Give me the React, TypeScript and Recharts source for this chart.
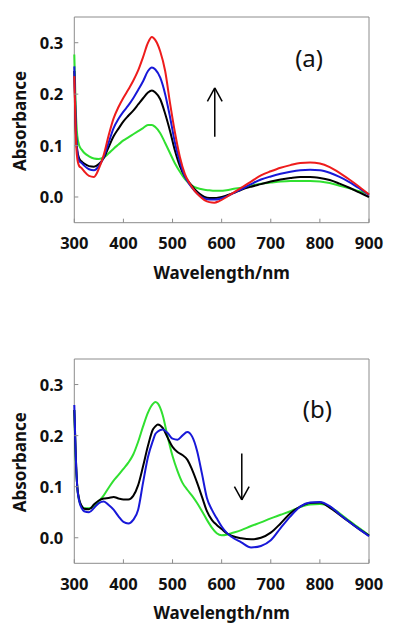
import React from "react";
import { LineChart, Line, XAxis, YAxis, ReferenceArea, ReferenceLine, ReferenceDot } from "recharts";

// wavelength grids (nm)
const WL_A = [
  300, 303, 306, 310, 315, 320, 330, 340, 350, 360, 370, 380, 390, 400, 410, 420, 430, 440, 450, 458, 465, 475, 485,
  495, 505, 515, 525, 535, 545, 555, 565, 575, 585, 595, 610, 625, 640, 660, 680, 700, 720, 740, 760, 780, 800, 820,
  840, 860, 880, 900,
];
const WL_B = [
  300, 303, 306, 310, 315, 320, 330, 340, 350, 360, 370, 380, 390, 400, 410, 420, 430, 440, 450, 460, 465, 470, 480,
  490, 500, 510, 520, 530, 540, 550, 560, 570, 580, 590, 600, 610, 620, 640, 660, 680, 700, 720, 740, 760, 780, 800,
  820, 840, 860, 880, 900,
];

// panel (a) absorbance
const A_GREEN = [
  0.277, 0.17, 0.12, 0.1, 0.092, 0.086, 0.079, 0.075, 0.074, 0.077, 0.085, 0.094, 0.102, 0.11, 0.116, 0.122, 0.128,
  0.134, 0.14, 0.14, 0.136, 0.124, 0.105, 0.085, 0.065, 0.049, 0.035, 0.025, 0.019, 0.016, 0.014, 0.013, 0.012, 0.012,
  0.013, 0.016, 0.018, 0.022, 0.026, 0.028, 0.03, 0.031, 0.031, 0.031, 0.03, 0.027, 0.022, 0.017, 0.011, 0.006,
];
const A_BLACK = [
  0.245, 0.13, 0.09, 0.075, 0.069, 0.065, 0.06, 0.059, 0.064, 0.076, 0.097, 0.118, 0.133, 0.147, 0.158, 0.168, 0.18,
  0.192, 0.203, 0.207, 0.203, 0.19, 0.162, 0.128, 0.09, 0.06, 0.04, 0.027, 0.015, 0.006, 0.0, -0.002, -0.002, -0.001,
  0.003, 0.008, 0.014, 0.02, 0.025, 0.03, 0.034, 0.037, 0.039, 0.039, 0.037, 0.033, 0.026, 0.018, 0.009, 0.0,
];
const A_BLUE = [
  0.254, 0.14, 0.09, 0.07, 0.066, 0.061, 0.054, 0.052, 0.06, 0.078, 0.106, 0.134, 0.152, 0.166, 0.178, 0.192, 0.208,
  0.225, 0.245, 0.252, 0.248, 0.232, 0.2, 0.155, 0.105, 0.068, 0.04, 0.024, 0.012, 0.003, -0.003, -0.005, -0.005,
  -0.004, 0.001, 0.008, 0.015, 0.025, 0.034, 0.04, 0.045, 0.049, 0.052, 0.053, 0.052, 0.047, 0.039, 0.029, 0.017,
  0.004,
];
const A_RED = [
  0.235, 0.12, 0.075, 0.06, 0.056, 0.05, 0.041, 0.039, 0.055, 0.082, 0.12, 0.153, 0.175, 0.193, 0.209, 0.226, 0.246,
  0.272, 0.3, 0.311, 0.305, 0.283, 0.245, 0.182, 0.125, 0.078, 0.045, 0.026, 0.012, 0.002, -0.006, -0.01, -0.011,
  -0.008, 0.0, 0.009, 0.018, 0.03, 0.042, 0.05, 0.057, 0.062, 0.066, 0.067, 0.065, 0.058, 0.047, 0.034, 0.02, 0.005,
];

// panel (b) absorbance
const B_GREEN = [
  0.25, 0.15, 0.1, 0.072, 0.062, 0.058, 0.058, 0.062, 0.072, 0.083, 0.098, 0.112, 0.123, 0.135, 0.147, 0.163, 0.188,
  0.218, 0.245, 0.262, 0.266, 0.263, 0.24, 0.198, 0.16, 0.131, 0.108, 0.094, 0.082, 0.068, 0.052, 0.035, 0.02, 0.009,
  0.005, 0.006, 0.009, 0.015, 0.023, 0.03, 0.038, 0.045, 0.052, 0.06, 0.065, 0.066, 0.061, 0.048, 0.033, 0.019, 0.005,
];
const B_BLACK = [
  0.25, 0.16, 0.1, 0.075, 0.062, 0.057, 0.056, 0.065, 0.073, 0.077, 0.078, 0.08, 0.077, 0.075, 0.075, 0.082, 0.103,
  0.14, 0.18, 0.212, 0.218, 0.222, 0.215, 0.196, 0.178, 0.168, 0.162, 0.153, 0.133, 0.108, 0.08, 0.052, 0.035, 0.025,
  0.017, 0.009, 0.004, -0.001, -0.003, 0.0, 0.01, 0.028, 0.048, 0.061, 0.068, 0.069, 0.059, 0.045, 0.031, 0.017, 0.004,
];
const B_BLUE = [
  0.26, 0.16, 0.1, 0.072, 0.058, 0.052, 0.05, 0.058, 0.068, 0.071, 0.064, 0.055, 0.042, 0.031, 0.028, 0.035, 0.055,
  0.108, 0.158, 0.19, 0.203, 0.208, 0.212, 0.205, 0.194, 0.192, 0.2, 0.207, 0.198, 0.17, 0.125, 0.078, 0.055, 0.038,
  0.022, 0.01, 0.002, -0.009, -0.019, -0.016, -0.005, 0.019, 0.042, 0.061, 0.069, 0.07, 0.062, 0.046, 0.031, 0.017,
  0.003,
];

const X_TICKS = [300, 400, 500, 600, 700, 800, 900];
const Y_TICKS = [0, 0.1, 0.2, 0.3];

const FRAME = "#8c8c8c";
const FONT = "'Noto Sans', 'DejaVu Sans', sans-serif";
const RED = "#ee1c1c";
const BLUE = "#1818d8";
const GREEN = "#30e030";

const dataA = WL_A.map((wl, i) => ({ wl, green: A_GREEN[i], black: A_BLACK[i], blue: A_BLUE[i], red: A_RED[i] }));
const dataB = WL_B.map((wl, i) => ({ wl, green: B_GREEN[i], black: B_BLACK[i], blue: B_BLUE[i] }));

const XTick = (props: any) => {
  const { x, y, payload } = props;
  return (
    <g>
      <line x1={x} x2={x} y1={y} y2={y - 4} stroke={FRAME} />
      <text x={x} y={y + 26.5} textAnchor="middle" fontFamily={FONT} fontWeight="bold" fontSize={16.5} fill="#111">
        {payload.value}
      </text>
    </g>
  );
};

const YTick = (props: any) => {
  const { x, y, payload } = props;
  return (
    <g>
      <line x1={x} x2={x + 4} y1={y} y2={y} stroke={FRAME} />
      <text x={x - 11} y={y + 6} textAnchor="end" fontFamily={FONT} fontWeight="bold" fontSize={16.5} fill="#111">
        {Number(payload.value).toFixed(1)}
      </text>
    </g>
  );
};

const XTitle = (props: any) => {
  const { viewBox } = props;
  return (
    <text
      x={viewBox.x + viewBox.width / 2}
      y={viewBox.y + 56}
      textAnchor="middle"
      fontFamily={FONT}
      fontWeight="bold"
      fontSize={17}
      fill="#111"
    >
      Wavelength/nm
    </text>
  );
};

const YTitle = (props: any) => {
  const { viewBox } = props;
  const cx = 26;
  const cy = viewBox.y + viewBox.height / 2 + 1;
  return (
    <text
      x={cx}
      y={cy}
      transform={`rotate(-90 ${cx} ${cy})`}
      textAnchor="middle"
      fontFamily={FONT}
      fontWeight="bold"
      fontSize={17}
      fill="#111"
    >
      Absorbance
    </text>
  );
};

type Arrow = { x: number; tail: number; tip: number; head: number };

function Panel(props: {
  data: any[];
  keys: { key: string; color: string }[];
  tag: string;
  tagAt: { x: number; y: number };
  arrow: Arrow;
  height: number;
  top: number;
  axisH: number;
}) {
  const { data, keys, tag, tagAt, arrow, height, top, axisH } = props;
  const dir = arrow.tip > arrow.tail ? -1 : 1;
  return (
    <LineChart width={400} height={height} data={data} margin={{ top, right: 31, bottom: 0, left: 0 }}>
      <XAxis
        dataKey="wl"
        type="number"
        domain={[300, 900]}
        ticks={X_TICKS}
        height={axisH}
        axisLine={false}
        tickLine={false}
        tickSize={0}
        tickMargin={0}
        tick={<XTick />}
        interval={0}
        label={<XTitle />}
      />
      <YAxis
        type="number"
        domain={[-0.05, 0.35]}
        ticks={Y_TICKS}
        width={74.3}
        axisLine={false}
        tickLine={false}
        tickSize={0}
        tickMargin={0}
        tick={<YTick />}
        interval={0}
        label={<YTitle />}
      />
      <ReferenceArea x1={300} x2={900} y1={-0.05} y2={0.35} stroke={FRAME} strokeWidth={1} fill="none" />
      {keys.map((k) => (
        <Line
          key={k.key}
          type="monotone"
          dataKey={k.key}
          stroke={k.color}
          strokeWidth={2}
          dot={false}
          isAnimationActive={false}
        />
      ))}
      <ReferenceLine
        segment={[
          { x: arrow.x, y: arrow.tail },
          { x: arrow.x, y: arrow.tip },
        ]}
        stroke="#000"
        strokeWidth={1.5}
      />
      <ReferenceLine
        segment={[
          { x: arrow.x - 15, y: arrow.tip + dir * arrow.head },
          { x: arrow.x, y: arrow.tip },
        ]}
        stroke="#000"
        strokeWidth={1.5}
      />
      <ReferenceLine
        segment={[
          { x: arrow.x + 15, y: arrow.tip + dir * arrow.head },
          { x: arrow.x, y: arrow.tip },
        ]}
        stroke="#000"
        strokeWidth={1.5}
      />
      <ReferenceDot
        x={tagAt.x}
        y={tagAt.y}
        r={0}
        fill="none"
        stroke="none"
        label={{ value: tag, position: "center", fontSize: 24, fill: "#111", fontFamily: FONT }}
      />
    </LineChart>
  );
}

export default function App() {
  return (
    <div style={{ position: "absolute", left: 0, top: 0, width: 400, height: 637, background: "#fff" }}>
      <div style={{ position: "absolute", left: 0, top: 0 }}>
        <Panel
          data={dataA}
          keys={[
            { key: "green", color: GREEN },
            { key: "black", color: "#000" },
            { key: "blue", color: BLUE },
            { key: "red", color: RED },
          ]}
          tag="(a)"
          tagAt={{ x: 778, y: 0.27 }}
          arrow={{ x: 586, tail: 0.117, tip: 0.212, head: 0.026 }}
          height={300}
          top={17}
          axisH={77.3}
        />
      </div>
      <div style={{ position: "absolute", left: 0, top: 300 }}>
        <Panel
          data={dataB}
          keys={[
            { key: "green", color: GREEN },
            { key: "black", color: "#000" },
            { key: "blue", color: BLUE },
          ]}
          tag="(b)"
          tagAt={{ x: 795, y: 0.252 }}
          arrow={{ x: 641, tail: 0.165, tip: 0.074, head: 0.026 }}
          height={337}
          top={59}
          axisH={73.7}
        />
      </div>
    </div>
  );
}
